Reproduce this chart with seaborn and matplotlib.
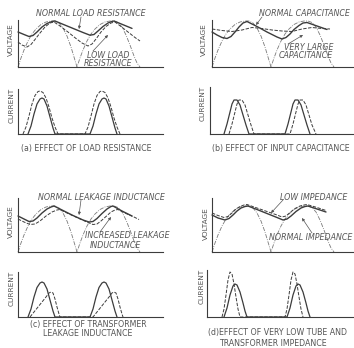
"""
Rectifier waveforms: output voltage and tube current for four circuit changes
(load resistance, input capacitance, leakage inductance, source impedance).
"""

import matplotlib
matplotlib.use("Agg")
import matplotlib.pyplot as plt
import seaborn as sns

sns.set_theme(style="white")
plt.rcParams['font.family'] = ['DejaVu Sans']

W, H = 354, 348
INK = "#3c3c3c"
GREY = "#7a7a7a"
TEXT = "#555555"
FS = 5.7

# rectified supply voltage, two half-cycles (x = offset from the y axis, y = height)
SINE_X = [0, 3, 6, 10, 14, 18, 23, 28, 33, 37, 41, 45, 49, 53, 56, 59,
          62, 65, 69, 73, 77, 82, 87, 92, 96, 100, 104, 108, 112, 116, 119, 122]
SINE_Y = [0, 9, 17, 26, 33, 38, 42.5, 45, 46, 46, 44, 39, 31, 20, 10, 0,
          9, 17, 26, 33, 38, 42.5, 45, 46, 46, 44.5, 40, 32, 22, 11, 4, 0]

# (a) load resistance
A_NORM_X = [0, 6, 11, 15, 19, 24, 29, 34, 37, 45, 55, 65, 72, 76, 80, 85, 90, 94, 96, 105, 114]
A_NORM_Y = [35, 32.5, 30.5, 31.5, 35, 40, 43.5, 45.5, 46, 42.7, 38.6, 34.5, 31.8, 32.5, 36, 40.5, 44, 45.6, 46, 42.3, 38.6]
A_LOW_X = [0, 4, 9, 13, 17, 22, 27, 32, 36, 42, 50, 58, 64, 70, 74, 78, 83, 88, 93, 97, 103, 110, 117, 122]
A_LOW_Y = [25, 22, 20, 22.5, 27.5, 34, 40, 44, 45, 41, 35, 28.5, 24, 21, 23, 28, 35, 40.5, 44, 45, 40.5, 35, 29.5, 26]
A_I_DASH_X = [5, 8, 11, 14, 17, 20, 22, 25, 28, 31, 34, 37, 40,
              67, 70, 73, 76, 79, 82, 84, 87, 90, 93, 96, 99, 102]
A_I_DASH_Y = [0, 7, 18, 30, 38.5, 42.5, 43, 41.5, 36, 27, 16, 7, 0,
              0, 7, 18, 30, 38.5, 42.5, 43, 41.5, 36, 27, 16, 7, 0]
A_I_SOLID_X = [10, 13, 16, 19, 22, 24, 26, 29, 32, 35, 37,
               72, 75, 78, 81, 84, 86, 88, 91, 94, 97, 99]
A_I_SOLID_Y = [0, 8, 20, 30, 35, 36, 35, 28, 17, 6, 0,
               0, 8, 20, 30, 35, 36, 35, 28, 17, 6, 0]

# (b) input capacitance
B_NORM_X = [0, 5, 10, 15, 19, 23, 27, 31, 35, 45, 55, 65, 70, 74, 78, 82, 87, 91, 95, 105, 115]
B_NORM_Y = [35, 32, 29.5, 28.5, 30.5, 35, 40, 44, 45.5, 40.5, 35, 30, 28, 29.5, 33, 37.5, 41.5, 44, 44.5, 41, 37.5]
B_LARGE_X = [0, 10, 20, 30, 40, 50, 60, 70, 80, 90, 100, 110, 118]
B_LARGE_Y = [38, 36.5, 35.5, 37, 39.5, 38.5, 37, 36, 35.5, 38, 39.5, 38.5, 38]
B_I_SOLID_X = [12, 15, 18, 20, 22, 25, 28, 31, 34, 37,
               73, 76, 79, 81, 83, 86, 89, 92, 95, 98]
B_I_SOLID_Y = [0, 10, 22, 30, 34, 34, 29, 19, 9, 0,
               0, 10, 22, 30, 34, 34, 29, 19, 9, 0]
B_I_DASH_X = [17, 20, 23, 25, 27, 30, 33, 36, 39, 42,
              78, 81, 84, 86, 88, 91, 94, 97, 100, 104]
B_I_DASH_Y = [0, 10, 22, 30, 34, 34, 29, 19, 9, 0,
              0, 10, 22, 30, 34, 34, 29, 19, 9, 0]

# (c) transformer leakage inductance
C_NORM_X = [0, 6, 11, 15, 19, 24, 29, 33, 36, 45, 55, 65, 71, 75, 79, 84, 89, 93, 95, 104, 114]
C_NORM_Y = [36, 33, 30.5, 31, 34, 39, 43, 45, 46, 41.5, 36.5, 32, 30, 30.5, 33.5, 38.5, 43, 45.5, 46, 41, 36]
C_INC_X = [0, 6, 12, 17, 22, 28, 34, 39, 42, 50, 60, 70, 75, 79, 83, 88, 93, 97, 100, 108, 116, 121]
C_INC_Y = [33, 30, 27.5, 28, 31, 36, 40, 42, 42.5, 38.5, 34, 29.5, 27.5, 28, 31, 35.5, 40, 42, 42.5, 38.5, 35, 32.5]
C_I_SOLID_X = [10, 13, 16, 19, 22, 24, 26, 29, 32, 35, 37,
               72, 75, 78, 81, 84, 86, 88, 91, 94, 97, 99]
C_I_SOLID_Y = [0, 8, 20, 29.5, 34, 35, 34, 28, 17, 6, 0,
               0, 8, 20, 29.5, 34, 35, 34, 28, 17, 6, 0]
C_I_DASH_X = [12, 16, 20, 24, 28, 31, 33, 35, 37, 39, 41, 42,
              75, 79, 83, 87, 91, 94, 96, 98, 100, 102, 104, 105]
C_I_DASH_Y = [0, 5, 10, 15, 20, 24, 25, 24, 18, 10, 3, 0,
              0, 5, 10, 15, 20, 24, 25, 24, 18, 10, 3, 0]

# (d) very low tube and transformer impedance
D_NORM_X = [0, 6, 13, 17, 21, 25, 29, 33, 36, 45, 55, 65, 71, 75, 79, 84, 89, 93, 96, 105, 114]
D_NORM_Y = [37, 34, 32, 33.5, 37, 41, 44, 45.5, 46, 42.5, 38.5, 34.5, 32, 33, 36, 40.5, 44, 45.5, 46, 43, 40]
D_LOW_X = [0, 6, 12, 16, 20, 24, 28, 32, 35, 45, 55, 65, 70, 74, 78, 83, 88, 92, 95, 105, 114]
D_LOW_Y = [39, 36.5, 34.5, 35.5, 39, 43, 45.5, 47, 47.5, 44, 40.5, 37, 35, 36, 39.5, 43.5, 46, 47, 47.5, 44.5, 41.5]
D_I_DASH_X = [10, 12, 14, 16, 18, 20, 22, 24, 26, 28,
              73, 75, 77, 79, 81, 83, 85, 87, 89, 91]
D_I_DASH_Y = [0, 8, 22, 37, 45, 43, 33, 20, 8, 0,
              0, 8, 22, 37, 45, 43, 33, 20, 8, 0]
D_I_SOLID_X = [12, 15, 18, 21, 23, 25, 28, 31, 33, 35,
               75, 78, 81, 84, 86, 88, 91, 94, 96, 98]
D_I_SOLID_Y = [0, 9, 22, 31, 33, 32, 25, 14, 6, 0,
               0, 9, 22, 31, 33, 32, 25, 14, 6, 0]

DASHED = (0, (3.5, 1.5))
SINE_DASH = (0, (5, 1.5, 1, 1.5))


def add_box(fig, left, right, top, bottom, x0):
    """Axes placed by pixel box; x is measured from x0, y from the baseline."""
    ax = fig.add_axes([left / W, 1 - bottom / H, (right - left) / W, (bottom - top) / H])
    ax.set_xlim(left - x0, right - x0)
    ax.set_ylim(0, bottom - top)
    ax.set_xticks([])
    ax.set_yticks([])
    for side in ("top", "right"):
        ax.spines[side].set_visible(False)
    for side in ("left", "bottom"):
        ax.spines[side].set_color(INK)
        ax.spines[side].set_linewidth(0.8)
    ax.patch.set_alpha(0)
    return ax


def draw(ax, xs, ys, style="-", color=INK, lw=0.9):
    sns.lineplot(x=xs, y=ys, ax=ax, sort=False, estimator=None, color=color,
                 linestyle=style, linewidth=lw, legend=False, clip_on=False)
    ax.set_xlabel("")
    ax.set_ylabel("")


fig = plt.figure(figsize=(W / 100, H / 100), dpi=100)

# (a)
ax = add_box(fig, 18, 163, 20, 67, 18)
draw(ax, SINE_X, SINE_Y, SINE_DASH, GREY, 0.6)
draw(ax, A_LOW_X, A_LOW_Y, DASHED, INK, 0.7)
draw(ax, A_NORM_X, A_NORM_Y, "-", INK, 1.0)
ax = add_box(fig, 18, 163, 89, 134, 18)
draw(ax, A_I_DASH_X, A_I_DASH_Y, DASHED, INK, 0.7)
draw(ax, A_I_SOLID_X, A_I_SOLID_Y, "-", INK, 0.9)

# (b)
ax = add_box(fig, 212, 354, 20, 67, 212)
draw(ax, SINE_X, SINE_Y, SINE_DASH, GREY, 0.6)
draw(ax, B_LARGE_X, B_LARGE_Y, DASHED, INK, 0.7)
draw(ax, B_NORM_X, B_NORM_Y, "-", INK, 1.0)
ax = add_box(fig, 210, 354, 87, 134, 212)
draw(ax, B_I_DASH_X, B_I_DASH_Y, DASHED, INK, 0.7)
draw(ax, B_I_SOLID_X, B_I_SOLID_Y, "-", INK, 0.9)

# (c)
ax = add_box(fig, 18, 163, 198, 252, 18)
draw(ax, SINE_X, SINE_Y, SINE_DASH, GREY, 0.6)
draw(ax, C_INC_X, C_INC_Y, DASHED, INK, 0.7)
draw(ax, C_NORM_X, C_NORM_Y, "-", INK, 1.0)
ax = add_box(fig, 18, 163, 272, 317, 18)
draw(ax, C_I_DASH_X, C_I_DASH_Y, DASHED, INK, 0.7)
draw(ax, C_I_SOLID_X, C_I_SOLID_Y, "-", INK, 0.9)

# (d)
ax = add_box(fig, 212, 354, 198, 252, 212)
draw(ax, SINE_X, SINE_Y, SINE_DASH, GREY, 0.6)
draw(ax, D_LOW_X, D_LOW_Y, DASHED, INK, 0.7)
draw(ax, D_NORM_X, D_NORM_Y, "-", INK, 1.0)
ax = add_box(fig, 207, 354, 270, 317, 212)
draw(ax, D_I_DASH_X, D_I_DASH_Y, DASHED, INK, 0.7)
draw(ax, D_I_SOLID_X, D_I_SOLID_Y, "-", INK, 0.9)

# lettering and leader arrows, in pixel coordinates
ov = fig.add_axes([0, 0, 1, 1], zorder=5)
ov.set_xlim(0, W)
ov.set_ylim(H, 0)
ov.axis("off")


def label(x, y, s, ha="center", italic=False, rot=0, size=FS):
    ov.text(x, y, s, ha=ha, va="center", fontsize=size, color=TEXT,
            style="italic" if italic else "normal", rotation=rot)


def leader(x1, y1, x2, y2):
    ov.annotate("", xy=(x2, y2), xytext=(x1, y1),
                arrowprops=dict(arrowstyle="-|>", color=TEXT, lw=0.5, mutation_scale=4,
                                shrinkA=0, shrinkB=0))


for x, y, s in [(11, 40, "VOLTAGE"), (12, 105, "CURRENT"), (204, 40, "VOLTAGE"), (203, 103, "CURRENT"),
                (11, 222, "VOLTAGE"), (12, 288, "CURRENT"), (206, 224, "VOLTAGE"), (202, 286, "CURRENT")]:
    label(x, y, s, rot=90, size=5.3)

label(91, 14, "NORMAL LOAD RESISTANCE", italic=True)
leader(81, 17, 79, 29)
label(87, 55, "LOW LOAD", ha="left", italic=True)
label(84, 63, "RESISTANCE", ha="left", italic=True)
leader(93, 51, 108, 35)
label(86, 148, "(a) EFFECT OF LOAD RESISTANCE")

label(350, 14, "NORMAL CAPACITANCE", ha="right", italic=True)
leader(262, 17, 256, 25)
label(284, 47, "VERY LARGE", ha="left", italic=True)
label(279, 56, "CAPACITANCE", ha="left", italic=True)
leader(288, 44, 303, 35)
label(281, 148, "(b) EFFECT OF INPUT CAPACITANCE")

label(101, 197, "NORMAL LEAKAGE INDUCTANCE", italic=True)
leader(81, 200, 79, 215)
label(85, 235, "INCREASED LEAKAGE", ha="left", italic=True)
label(90, 245, "INDUCTANCE", ha="left", italic=True)
leader(100, 232, 111, 217)
label(88, 324, "(c) EFFECT OF TRANSFORMER")
label(88, 334, "LEAKAGE INDUCTANCE")

label(314, 197, "LOW IMPEDANCE", italic=True)
leader(283, 200, 271, 213)
label(352, 237, "NORMAL IMPEDANCE", ha="right", italic=True)
leader(312, 233, 302, 218)
label(278, 333, "(d)EFFECT OF VERY LOW TUBE AND")
label(273, 343, "TRANSFORMER IMPEDANCE")

fig.savefig("out.png", dpi=100)
plt.close(fig)
